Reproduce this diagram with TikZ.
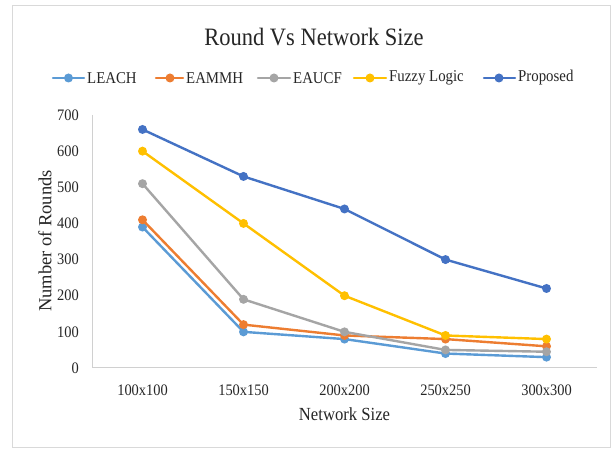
\documentclass[tikz,border=0pt]{standalone}
\usepackage{fontspec}
\setmainfont{Liberation Serif}
\definecolor{cLeach}{HTML}{5B9BD5}
\definecolor{cEammh}{HTML}{ED7D31}
\definecolor{cEaucf}{HTML}{A5A5A5}
\definecolor{cFuzzy}{HTML}{FFC000}
\definecolor{cProp}{HTML}{4472C4}
\definecolor{cAxis}{HTML}{D0D0D0}
\definecolor{cFrame}{HTML}{D9D9D9}
\definecolor{cText}{HTML}{262626}
\newcommand\fsz[1]{\fontsize{#1}{#1}\selectfont}
\newcommand\plotseries[3]{%
  \foreach \v [count=\i from 0] in {#3} {
    \coordinate (#1-\i) at ({142.5+101*\i},{368-0.36143*\v});
  }
  \draw[series,#2] (#1-0) -- (#1-1) -- (#1-2) -- (#1-3) -- (#1-4);
  \foreach \i in {0,...,4} { \node[dot=#2] (#1-m\i) at (#1-\i) {}; }
}
\newcommand\legentry[6]{% name, color, x1, xm, x2, text
  \coordinate (#1-la) at (#3,78);
  \coordinate (#1-lb) at (#5,78);
  \draw[series,#2] (#1-la) -- (#1-lb);
  \node[dot=#2] (#1-ld) at (#4,78) {};
  \node[legtext] (#1-lt) at (#5+3,78) {#6};
}
\begin{document}
\begin{tikzpicture}[x=1pt,y=-1pt,
  series/.style={line width=2.4pt, line join=round, line cap=round},
  dot/.style={circle, inner sep=0pt, minimum size=9pt, fill=#1, draw=none},
  legtext/.style={anchor=west, inner sep=0pt, xscale=0.9, text=cText, font=\fsz{16.5}},
  ticklab/.style={inner sep=0pt, text=cText, xscale=0.9, font=\fsz{16}},
  axline/.style={draw=cAxis, line width=1pt},
  frame/.style={draw=cFrame, line width=1pt}]
\useasboundingbox (0,0) rectangle (614,449);
\fill[white] (0,0) rectangle (614,449);
\draw[frame] (12.5,5.5) rectangle (610.5,447.5);

% title
\node[text=cText, inner sep=0pt, xscale=0.9, font=\fsz{25}] (title) at (314,37) {Round Vs Network Size};

% legend
\legentry{leach}{cLeach}{53}{68.5}{84}{LEACH}
\legentry{eammh}{cEammh}{156}{170}{183}{EAMMH}
\legentry{eaucf}{cEaucf}{258}{274}{290}{EAUCF}
\legentry{fuzzy}{cFuzzy}{354}{370}{386}{Fuzzy Logic}
\legentry{prop}{cProp}{484}{499}{515}{Proposed}

% axes
\coordinate (o) at (92,368);
\coordinate (ytop) at (92,115);
\coordinate (xend) at (597,368);
\draw[axline] (ytop) -- (o) -- (xend);

% y tick labels
\foreach \v in {0,100,...,700} {
  \node[ticklab, anchor=east] (yt\v) at (79,{368-0.36143*\v}) {\v};
}
% x tick labels
\foreach \lab [count=\i from 0] in {100x100,150x150,200x200,250x250,300x300} {
  \node[ticklab] (xt\i) at ({142.5+101*\i},390) {\lab};
}
% axis titles
\node[text=cText, inner sep=0pt, xscale=0.9, font=\fsz{18.5}] (xtitle) at (344.5,414) {Network Size};
\node[text=cText, inner sep=0pt, rotate=90, font=\fsz{18.5}] (ytitle) at (45,241) {Number of Rounds};

% series
\plotseries{L}{cLeach}{390,100,80,40,30}
\plotseries{E}{cEammh}{410,120,90,80,60}
\plotseries{U}{cEaucf}{510,190,100,50,45}
\plotseries{F}{cFuzzy}{600,400,200,90,80}
\plotseries{P}{cProp}{660,530,440,300,220}
\end{tikzpicture}
\end{document}
